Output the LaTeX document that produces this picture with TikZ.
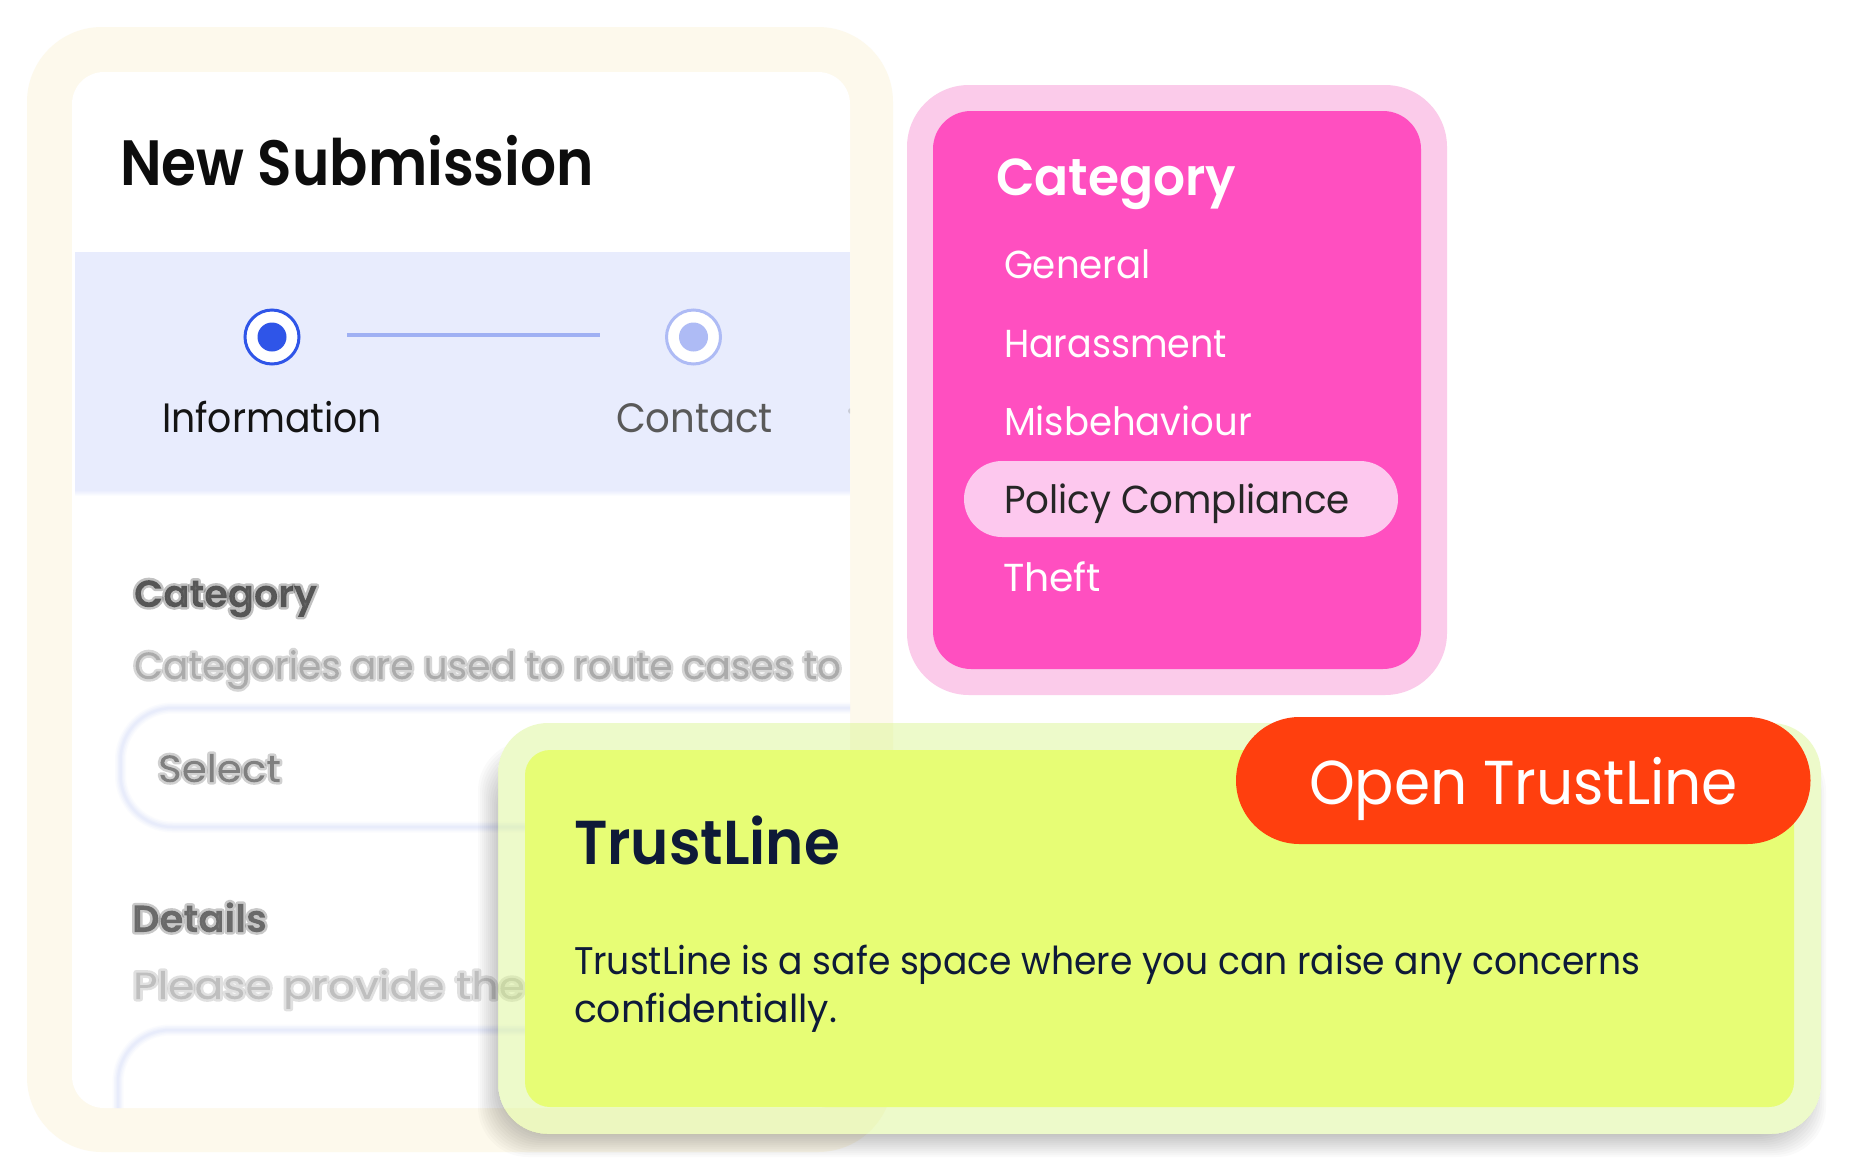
\documentclass[tikz,border=0pt]{standalone}
\usepackage{fontspec}
\usepackage{graphicx}
\setmainfont{Poppins}
\newfontfamily\semib{Poppins SemiBold}
\definecolor{creamc}{HTML}{FDF9EC}
\definecolor{bandc}{HTML}{E8ECFD}
\definecolor{bluec}{HTML}{2F55E8}
\definecolor{bluelt}{HTML}{AEBBF5}
\definecolor{linec}{HTML}{9FB0F3}
\definecolor{pinkc}{HTML}{FF4FC0}
\definecolor{pinkring}{HTML}{FBCBEA}
\definecolor{pinkpill}{HTML}{FDC8EE}
\definecolor{limec}{HTML}{E7FD75}
\definecolor{limering}{HTML}{D9F58A}
\definecolor{orangec}{HTML}{FF3F0E}
\definecolor{navyc}{HTML}{0E1A38}
\definecolor{boxline}{HTML}{C3CFF8}
% fit a text to a width in px, keeping the height of its font size
\newcommand{\fitw}[3]{\resizebox{#1pt}{\height}{\fontsize{#2}{#2}\selectfont #3}}
% out-of-focus text: one text, filled faintly and stroked with a wide, fainter outline
\newcommand{\softw}[5]{\pgfsetfillopacity{#4}\pgfsetstrokeopacity{#5}%
  \special{pdf:code 2 Tr 5 w 1 j 1 J}\fitw{#1}{#2}{#3}\special{pdf:code 0 Tr 1 w}}
\tikzset{
  lbl/.style={inner sep=0pt,outer sep=0pt,anchor=base west},
  even odd clip/.code={\pgfseteorule},
  boxglow/.style={draw=boxline,fill=none,rounded corners=52pt},
}
\begin{document}
\begin{tikzpicture}[x=1pt,y=-1pt]
\useasboundingbox (0,0) rectangle (1868,1173);
\fill[white] (0,0) rectangle (1868,1173);

% form card
\fill[creamc,rounded corners=75pt] (27,27) rectangle (893,1152);
\fill[white,rounded corners=32pt] (72,72) rectangle (850,1108);
\begin{scope}
  \clip[rounded corners=32pt] (72,72) rectangle (850,1108);
  \fill[bandc] (75,252) rectangle (850,490);
  \shade[top color=bandc,bottom color=white] (75,490) rectangle (850,496);
  \fill[gray,opacity=.3] (851,411) circle (3);
  % input outlines
  \foreach \w/\o in {11/.07,8/.1,5/.12,2.5/.12}{
    \draw[boxglow,line width=\w pt,opacity=\o] (120.5,708) rectangle (950,827);
    \draw[boxglow,line width=\w pt,opacity=\o] (118,1030) rectangle (950,1300);
  }
  \node[lbl,text=black!80] (fcat) at (134,607) {\softw{183}{38}{\semib Category}{.75}{.3}};
  \node[lbl,text=black!40] (fhelp) at (134,679) {\softw{707}{38}{Categories are used to route cases to}{.7}{.4}};
  \node[lbl,text=black!60] (fsel) at (158,782) {\softw{123}{38}{Select}{.75}{.3}};
  \node[lbl,text=black!70] (fdet) at (132,932) {\softw{135}{38}{\semib Details}{.75}{.3}};
  \node[lbl,text=black!30] (fplease) at (133,999) {\softw{392}{38}{Please provide the}{.7}{.4}};
\end{scope}

% form header
\node[lbl,text=black!95] (title) at (120,185) {\fitw{474}{64}{\semib New Submission}};
\node[circle,inner sep=0pt,minimum size=54pt,fill=white,draw=bluec,line width=3pt] (stepa) at (272,337) {};
\node[circle,inner sep=0pt,minimum size=29pt,fill=bluec] (stepadot) at (stepa.center) {};
\node[circle,inner sep=0pt,minimum size=54pt,fill=white,draw=bluelt,line width=3pt] (stepb) at (693.5,337) {};
\node[circle,inner sep=0pt,minimum size=29pt,fill=bluelt] (stepbdot) at (stepb.center) {};
\coordinate (la) at (347,335);
\coordinate (lb) at (600,335);
\draw[linec,line width=4.5pt] (la) -- (lb);
\node[lbl,text=black!92] (info) at (162,432) {\fitw{220}{41}{Information}};
\node[lbl,text=black!65] (contact) at (616,432) {\fitw{157}{41}{Contact}};

% category card
\fill[pinkring,rounded corners=62pt] (907,85) rectangle (1447,695);
\fill[pinkc,rounded corners=38pt] (933,111) rectangle (1421,669);
\fill[pinkpill,rounded corners=38pt] (964,461) rectangle (1398,537);
\node[lbl,text=white] (ccat) at (996,195) {\fitw{240}{52}{\semib Category}};
\node[lbl,text=white] (c1) at (1004,278.5) {\fitw{147}{39}{General}};
\node[lbl,text=white] (c2) at (1004,357) {\fitw{223}{39}{Harassment}};
\node[lbl,text=white] (c3) at (1004,435) {\fitw{248}{39}{Misbehaviour}};
\node[lbl,text=black!85] (c4) at (1004,513) {\fitw{346}{39}{Policy Compliance}};
\node[lbl,text=white] (c5) at (1003,591) {\fitw{98}{39}{Theft}};

% soft shadow of the TrustLine card, outside the card only
\begin{scope}
  \path[even odd clip,clip] (0,0) rectangle (1868,1173)
     [rounded corners=50pt] (498,723) rectangle (1821,1134);
  \foreach \s in {14,12,...,-8}{
    \fill[black,opacity=.02,rounded corners=50pt]
      ({492-\s},{755-\s}) rectangle ({1812+\s},{1143+\s});
  }
\end{scope}

% TrustLine card
\fill[limering,opacity=.45,rounded corners=50pt] (498,723) rectangle (1821,1134);
\fill[limec,rounded corners=25pt] (525,750) rectangle (1794,1107);
\node[lbl,text=navyc] (tl) at (574,864) {\fitw{266}{62}{\semib TrustLine}};
\node[lbl,text=navyc] (tb1) at (574,974) {\fitw{1066}{38.5}{TrustLine is a safe space where you can raise any concerns}};
\node[lbl,text=navyc] (tb2) at (574,1022) {\fitw{263}{38.5}{confidentially.}};

% button
\fill[orangec,rounded corners=63.5pt] (1236,717) rectangle (1810.5,844);
\node[lbl,text=white] (btn) at (1309,804) {\fitw{429}{62}{Open TrustLine}};
\end{tikzpicture}
\end{document}
